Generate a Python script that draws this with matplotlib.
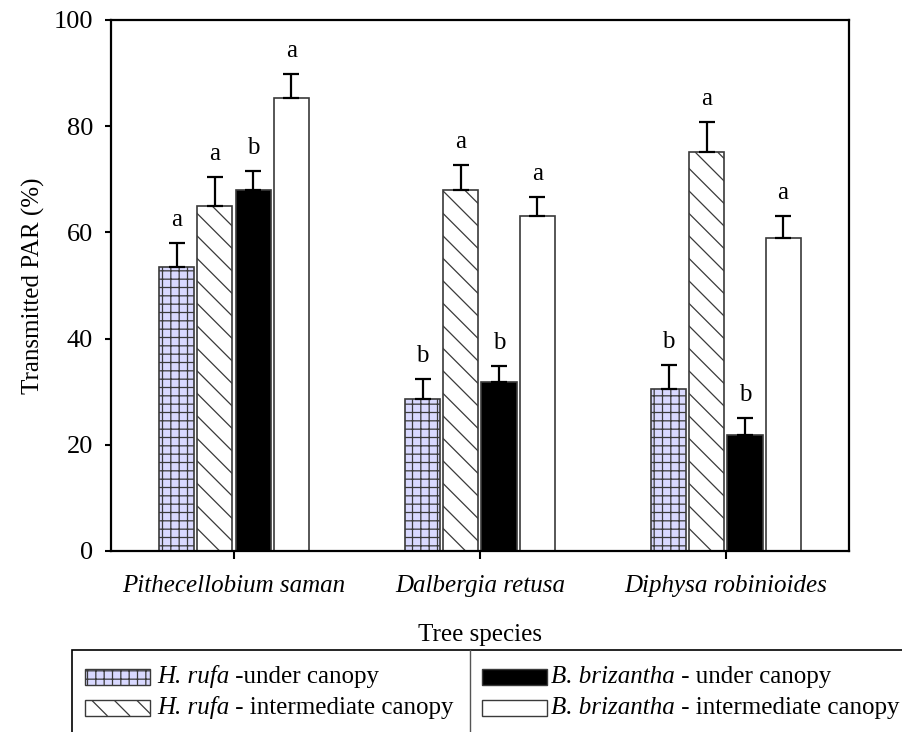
import matplotlib.pyplot as plt
import numpy as np
from matplotlib.patches import Rectangle
from matplotlib.lines import Line2D
from matplotlib.collections import LineCollection
from matplotlib.transforms import IdentityTransform

plt.rcParams['font.family'] = 'Liberation Serif'
plt.rcParams['hatch.linewidth'] = 0.9

species = ['Pithecellobium saman', 'Dalbergia retusa', 'Diphysa robinioides']

rufa_under = [53.5, 28.6, 30.5]
rufa_under_se = [4.5, 3.8, 4.5]
rufa_inter = [65.0, 68.0, 75.1]
rufa_inter_se = [5.5, 4.7, 5.6]
briz_under = [67.9, 31.9, 21.8]
briz_under_se = [3.7, 2.9, 3.2]
briz_inter = [85.4, 63.0, 58.9]
briz_inter_se = [4.4, 3.7, 4.1]

rufa_under_sig = ['a', 'b', 'b']
rufa_inter_sig = ['a', 'a', 'a']
briz_under_sig = ['b', 'b', 'b']
briz_inter_sig = ['a', 'a', 'a']

# legend entries: italic species name, then plain description
legend_names = ['H. rufa', 'H. rufa', 'B. brizantha', 'B. brizantha']
legend_desc = [' -under canopy', ' - intermediate canopy',
               ' - under canopy', ' - intermediate canopy']

fs = 18
edge = '#3a3a3a'
# face colour, hatch and diagonal-line flag for each treatment
styles = [('#d9d9ff', '++', False), ('white', '', True),
          ('black', '', False), ('white', '', False)]


def diagonal_lines(patch, parent, step=22.5):
    # '\' style lines at a fixed pixel spacing, clipped to the patch
    x0, y0, x1, y1 = patch.get_window_extent().extents
    h = y1 - y0
    segs = [[(c, y1), (c + h, y0)] for c in np.arange(x0 - h, x1 + step, step)]
    lc = LineCollection(segs, colors=edge, linewidths=0.9,
                        transform=IdentityTransform(), zorder=patch.get_zorder() + 0.1)
    parent.add_artist(lc)
    lc.set_clip_path(patch)


fig = plt.figure(figsize=(9.02, 7.32), dpi=100)
ax = fig.add_axes([0.123, 0.2473, 0.818, 0.7254])

x = np.arange(len(species))
width = 0.143
offsets = [-0.233, -0.078, 0.078, 0.233]

series = [(rufa_under, rufa_under_se, rufa_under_sig),
          (rufa_inter, rufa_inter_se, rufa_inter_sig),
          (briz_under, briz_under_se, briz_under_sig),
          (briz_inter, briz_inter_se, briz_inter_sig)]

ax.set_xlim(-0.5, 2.5)
ax.set_ylim(0, 100)

for (vals, se, sig), off, (face, hatch, diag) in zip(series, offsets, styles):
    vals = np.array(vals)
    se = np.array(se)
    bars = ax.bar(x + off, vals, width, color=face, edgecolor=edge, hatch=hatch,
                  linewidth=1.2, yerr=[np.zeros_like(se), se],
                  error_kw=dict(ecolor='black', elinewidth=1.6, capsize=5.5, capthick=1.6))
    if diag:
        for b in bars:
            diagonal_lines(b, ax)
    for xi, top, letter in zip(x + off, vals + se, sig):
        ax.text(xi, top + 3.2, letter, ha='center', va='baseline', fontsize=fs)

ax.set_yticks(np.arange(0, 101, 20))
ax.set_xticks(x)
ax.set_xticklabels(species, fontstyle='italic', fontsize=fs)
ax.tick_params(axis='y', direction='out', length=4, width=1.5, pad=9, labelsize=19)
ax.tick_params(axis='x', direction='out', length=6, width=1.5, pad=11)
for sp in ax.spines.values():
    sp.set_linewidth(1.6)

ax.set_ylabel('Transmitted PAR (%)', fontsize=fs, labelpad=6)
ax.set_xlabel('Tree species', fontsize=fs, labelpad=20)

# legend box below the axes, two columns split by a divider
W, H = 902.0, 732.0
fig.add_artist(Rectangle((72 / W, -0.05), 1.0, 1 - 650 / H + 0.05,
                         transform=fig.transFigure, facecolor='none',
                         edgecolor='black', linewidth=1.2))
fig.add_artist(Line2D([470 / W, 470 / W], [0, 1 - 650 / H],
                      transform=fig.transFigure, color='#555555', linewidth=1.0))

renderer = fig.canvas.get_renderer()
rows = [677, 708]
cols = [(85, 157), (482, 551)]
for i, (face, hatch, diag) in enumerate(styles):
    px, tx = cols[i // 2]
    yc = rows[i % 2]
    box = Rectangle((px / W, 1 - (yc + 8) / H), 65 / W, 16 / H,
                    transform=fig.transFigure, facecolor=face,
                    edgecolor=edge, hatch=hatch, linewidth=1.0)
    fig.add_artist(box)
    if diag:
        diagonal_lines(box, fig)
    yb = 1 - (yc + 6) / H
    name = fig.text(tx / W, yb, legend_names[i], fontsize=fs, fontstyle='italic',
                    va='baseline', ha='left')
    x_end = name.get_window_extent(renderer=renderer).x1 / fig.bbox.width
    fig.text(x_end, yb, legend_desc[i], fontsize=fs, va='baseline', ha='left')

fig.savefig('out.png', dpi=100)
